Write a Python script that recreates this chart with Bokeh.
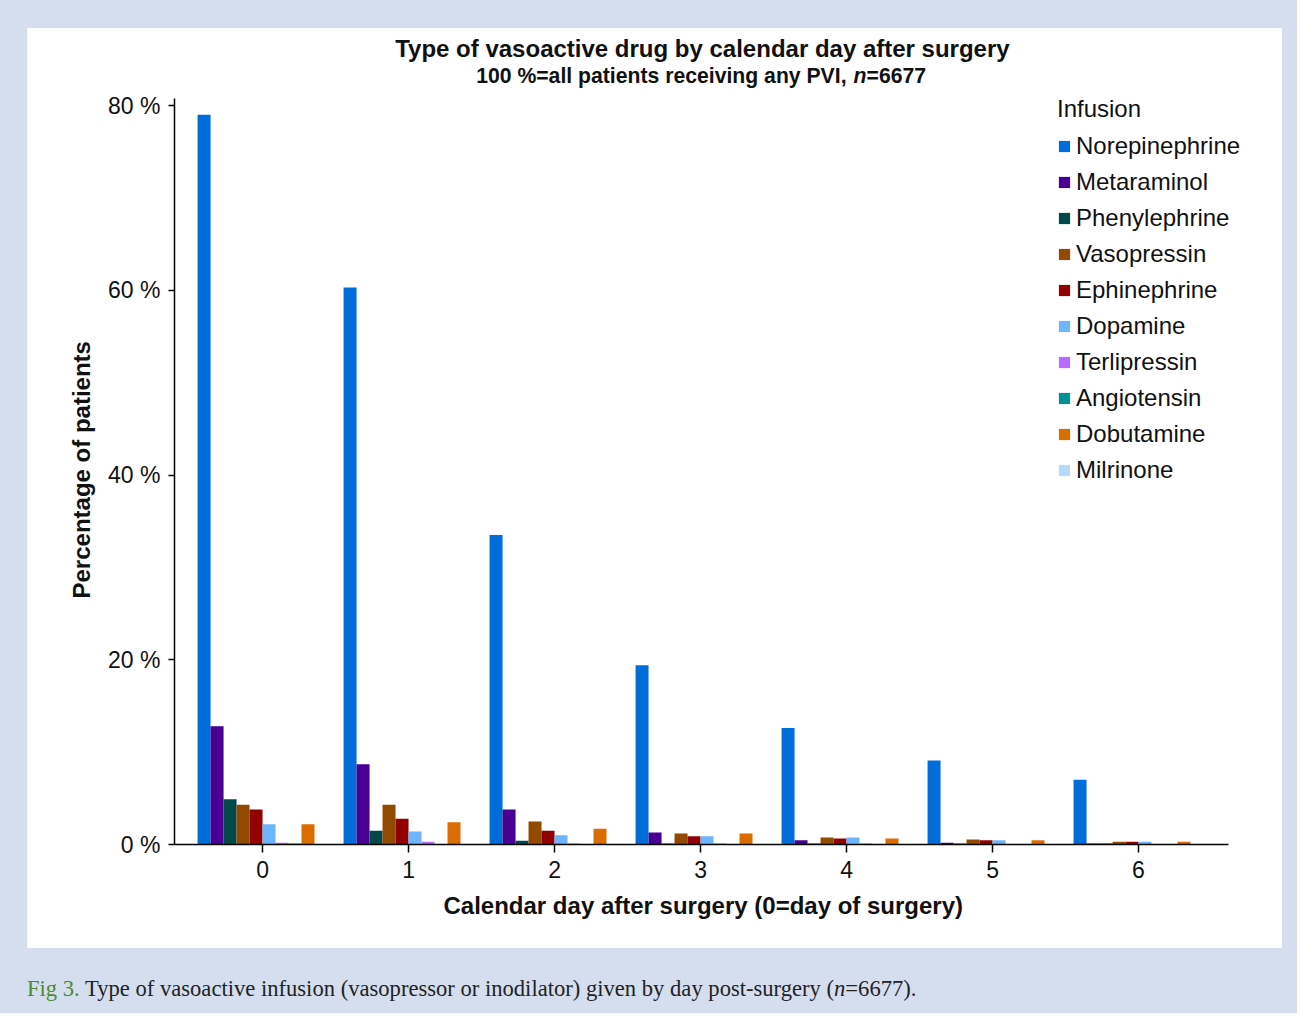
from bokeh.plotting import figure
from bokeh.models import Range1d, FixedTicker, Label, Div, Legend, LegendItem, Title
from bokeh.layouts import column
from bokeh.embed import file_html
from bokeh.resources import INLINE

days = [0, 1, 2, 3, 4, 5, 6]
drugs = ["Norepinephrine", "Metaraminol", "Phenylephrine", "Vasopressin", "Ephinephrine",
         "Dopamine", "Terlipressin", "Angiotensin", "Dobutamine", "Milrinone"]
colors = ["#006ddb", "#490092", "#004949", "#924900", "#920000",
          "#6db6ff", "#b66dff", "#009292", "#db6d00", "#b6dbff"]

norepinephrine = [79.0, 60.3, 33.5, 19.4, 12.6, 9.1, 7.0]
metaraminol = [12.8, 8.7, 3.8, 1.3, 0.45, 0.2, 0.1]
phenylephrine = [4.9, 1.5, 0.4, 0.1, 0.1, 0.1, 0.1]
vasopressin = [4.3, 4.3, 2.5, 1.2, 0.75, 0.55, 0.3]
ephinephrine = [3.8, 2.8, 1.5, 0.9, 0.65, 0.45, 0.3]
dopamine = [2.2, 1.4, 1.0, 0.9, 0.75, 0.45, 0.3]
terlipressin = [0.2, 0.3, 0.1, 0.1, 0.1, 0.0, 0.0]
angiotensin = [0.1, 0.0, 0.0, 0.0, 0.0, 0.0, 0.0]
dobutamine = [2.2, 2.4, 1.7, 1.2, 0.65, 0.45, 0.3]
milrinone = [0.0, 0.0, 0.0, 0.0, 0.0, 0.0, 0.0]

series = [norepinephrine, metaraminol, phenylephrine, vasopressin, ephinephrine,
          dopamine, terlipressin, angiotensin, dobutamine, milrinone]

y_ticks = [0, 20, 40, 60, 80]
y_tick_labels = ["0 %", "20 %", "40 %", "60 %", "80 %"]

FONT = "Liberation Sans"
BG = "#d5deef"
TXT = "#111111"

# axis extents (what the axes show) and frame extents (room for titles / legend)
X0, X1 = -0.603, 6.616
Y0, Y1 = 0, 80.76

p = figure(width=1255, height=920, output_backend="svg", toolbar_location=None,
           x_range=Range1d(X0, 6.904), y_range=Range1d(Y0, 88.12))
p.min_border_left = 147
p.min_border_right = 12
p.min_border_top = 2
p.min_border_bottom = 104
p.outline_line_color = None
p.xgrid.visible = False
p.ygrid.visible = False
p.background_fill_color = "white"
p.border_fill_color = "white"
p.styles = {"background-color": "white"}

bw = 0.089
items = []
for i, (name, vals, c) in enumerate(zip(drugs, series, colors)):
    xs = [d + (i - 4.5) * bw for d in days]
    r = p.vbar(x=xs, top=vals, width=bw, bottom=0, fill_color=c, line_color=None)
    items.append(LegendItem(label=name, renderers=[r]))

legend = Legend(items=items, location=(883, 360), title="Infusion",
                title_text_font=FONT, title_text_font_size="24px", title_text_font_style="normal",
                title_text_color=TXT,
                label_text_font=FONT, label_text_font_size="24px", label_text_color=TXT,
                glyph_width=14, glyph_height=14, label_standoff=5, spacing=8,
                label_height=24, title_standoff=9, padding=0, margin=0,
                border_line_color=None, background_fill_alpha=0)
p.add_layout(legend)

# axes
p.xaxis.bounds = (X0, X1)
p.xaxis.ticker = FixedTicker(ticks=days)
p.xaxis.major_label_text_font = FONT
p.xaxis.major_label_text_font_size = "23px"
p.xaxis.major_label_text_color = TXT
p.xaxis.major_tick_out = 8
p.xaxis.major_tick_in = 0
p.xaxis.minor_tick_line_color = None
p.xaxis.axis_line_width = 1.5
p.xaxis.major_tick_line_width = 1.5
p.xaxis.major_label_standoff = 8

p.yaxis.bounds = (Y0, Y1)
p.yaxis.ticker = FixedTicker(ticks=y_ticks)
p.yaxis.major_label_overrides = {t: l for t, l in zip(y_ticks, y_tick_labels)}
p.yaxis.major_label_text_font = FONT
p.yaxis.major_label_text_font_size = "23px"
p.yaxis.major_label_text_color = TXT
p.yaxis.major_tick_out = 6
p.yaxis.major_tick_in = 0
p.yaxis.minor_tick_line_color = None
p.yaxis.axis_line_width = 1.5
p.yaxis.major_tick_line_width = 1.5
p.yaxis.major_label_standoff = 8

# axis titles, centred on the drawn axes rather than on the whole frame
p.add_layout(Title(text="Calendar day after surgery (0=day of surgery)", align="left",
                   offset=269, standoff=18, text_font=FONT, text_font_size="24px",
                   text_font_style="bold", text_color=TXT), "below")
p.add_layout(Title(text="Percentage of patients", align="left",
                   offset=246, standoff=22, text_font=FONT, text_font_size="24px",
                   text_font_style="bold", text_color=TXT), "left")

# titles (placed in the empty top part of the frame)
p.add_layout(Label(x=3.013, y=86.17,
                   text="Type of vasoactive drug by calendar day after surgery",
                   text_font=FONT, text_font_size="24px", text_font_style="bold",
                   text_align="center", text_baseline="middle", text_color=TXT))
p.add_layout(Label(x=4.000, y=83.25,
                   text="100 %=all patients receiving any PVI,",
                   text_font=FONT, text_font_size="21.2px", text_font_style="bold",
                   text_align="right", text_baseline="middle", text_color=TXT))
p.add_layout(Label(x=4.048, y=83.25,
                   text="n", text_font=FONT, text_font_size="21.2px", text_font_style="bold italic",
                   text_align="left", text_baseline="middle", text_color=TXT))
p.add_layout(Label(x=4.137, y=83.25,
                   text="=6677", text_font=FONT, text_font_size="21.2px", text_font_style="bold",
                   text_align="left", text_baseline="middle", text_color=TXT))
p.margin = (28, 15, 0, 27)

cap = Div(text='<span style="color:#4c8a2e">Fig 3.</span> Type of vasoactive infusion '
               '(vasopressor or inodilator) given by day post-surgery (<i>n</i>=6677).',
          width=1255, height=65, margin=(0, 15, 0, 27),
          styles={"font-family": "Liberation Serif", "font-size": "22.6px", "color": "#222222",
                  "padding-top": "25px"})

layout = column(p, cap, styles={"background-color": BG})

open("out.html", "w").write(file_html(layout, INLINE))
